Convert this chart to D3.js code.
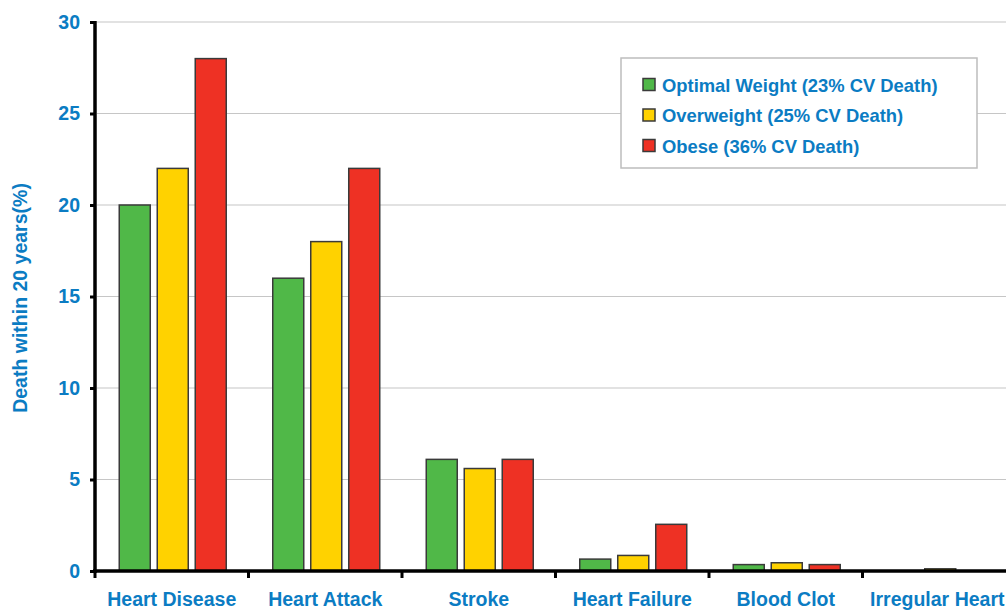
<!DOCTYPE html>
<html>
<head>
<meta charset="utf-8">
<script src="https://cdn.jsdelivr.net/npm/d3@7"></script>
<style>
  html, body { margin: 0; padding: 0; background: #fff; }
  svg { display: block; }
  text { font-family: "Liberation Sans", Arial, sans-serif; font-weight: bold; fill: #0b7cc3; }
</style>
</head>
<body>
<svg id="chart" width="1006" height="613"></svg>
<script>
// Cardiovascular death within 20 years by weight class
const categories = ["Heart Disease", "Heart Attack", "Stroke", "Heart Failure", "Blood Clot", "Irregular Heart"];
const seriesNames = ["Optimal Weight (23% CV Death)", "Overweight (25% CV Death)", "Obese (36% CV Death)"];
const optimalWeight = [20, 16, 6.1, 0.65, 0.35, 0];
const overweight    = [22, 18, 5.6, 0.85, 0.45, 0.12];
const obese         = [28, 22, 6.1, 2.55, 0.35, 0];
const seriesColors  = ["#50b848", "#ffd200", "#ee3124"];
const yTicks = [0, 5, 10, 15, 20, 25, 30];
const yLabel = "Death within 20 years(%)";

const series = [optimalWeight, overweight, obese];

const svg = d3.select("#chart");
const W = 1006, H = 613;
const x0 = 95, xEnd = 1016, yTop = 22, yBase = 571;

const x = d3.scaleBand().domain(categories).range([x0, xEnd]).paddingInner(0).paddingOuter(0);
const groupWidth = 107;
const xs = d3.scaleBand().domain(d3.range(series.length))
  .range([0, groupWidth]).paddingInner(0.184).paddingOuter(0);
const y = d3.scaleLinear().domain([0, 30]).range([yBase, yTop]);

// horizontal gridlines
svg.append("g")
  .selectAll("line")
  .data(yTicks.filter(d => d > 0))
  .join("line")
  .attr("x1", x0 + 2).attr("x2", W)
  .attr("y1", d => y(d)).attr("y2", d => y(d))
  .attr("stroke", "#c6c6c6").attr("stroke-width", 1.2);

// bars
const groups = svg.append("g")
  .selectAll("g")
  .data(categories)
  .join("g")
  .attr("transform", d => `translate(${x(d) + (x.bandwidth() - groupWidth) / 2 + 1},0)`);

groups.selectAll("rect")
  .data((c, i) => series.map((s, k) => ({ k, v: s[i] })))
  .join("rect")
  .attr("x", d => xs(d.k))
  .attr("width", xs.bandwidth())
  .attr("y", d => y(d.v))
  .attr("height", d => yBase - y(d.v))
  .attr("fill", d => seriesColors[d.k])
  .attr("stroke", "#3a3a3a")
  .attr("stroke-width", 1.5);

// y axis
const yAxis = d3.axisLeft(y).tickValues(yTicks).tickSize(5).tickPadding(10).tickFormat(d3.format("d"));
const gy = svg.append("g").attr("transform", `translate(${x0},0)`).call(yAxis);
gy.select(".domain").remove();
gy.selectAll(".tick line").attr("stroke", "#000").attr("stroke-width", 3);
gy.selectAll(".tick text")
  .attr("font-size", 19.5).attr("font-family", "Liberation Sans, Arial, sans-serif")
  .attr("font-weight", "bold").attr("fill", "#0b7cc3");
svg.append("line")
  .attr("x1", x0).attr("x2", x0).attr("y1", y(30) - 1).attr("y2", yBase + 2)
  .attr("stroke", "#000").attr("stroke-width", 3.5);

// x axis
const gx = svg.append("g").attr("transform", `translate(0,${yBase})`);
gx.append("line")
  .attr("x1", x0 - 2).attr("x2", W).attr("y1", 0).attr("y2", 0)
  .attr("stroke", "#000").attr("stroke-width", 3.5);
gx.selectAll("line.tk")
  .data(categories)
  .join("line")
  .attr("class", "tk")
  .attr("x1", d => x(d)).attr("x2", d => x(d))
  .attr("y1", 0).attr("y2", 7)
  .attr("stroke", "#000").attr("stroke-width", 3);
const catLabels = gx.selectAll("text")
  .data(categories)
  .join("text")
  .attr("x", d => x(d) + x.bandwidth() / 2)
  .attr("y", 35)
  .attr("text-anchor", "middle")
  .attr("font-size", 19.5)
  .text(d => d);
// keep the last category label inside the drawing area
catLabels.each(function () {
  const bb = this.getBBox();
  const overflow = bb.x + bb.width - (W - 1);
  if (overflow > 0) d3.select(this).attr("x", +d3.select(this).attr("x") - overflow);
});

// y axis title
svg.append("text")
  .attr("transform", `translate(27,298) rotate(-90)`)
  .attr("text-anchor", "middle")
  .attr("font-size", 19.5)
  .text(yLabel);

// legend
const lg = svg.append("g").attr("transform", "translate(621,58)");
lg.append("rect")
  .attr("width", 356).attr("height", 110)
  .attr("fill", "#fff").attr("stroke", "#bdbdbd").attr("stroke-width", 1.5);
const items = lg.selectAll("g.item")
  .data(seriesNames)
  .join("g")
  .attr("class", "item")
  .attr("transform", (d, i) => `translate(22,${27 + i * 30.5})`);
items.append("rect")
  .attr("x", 0).attr("y", -6.5).attr("width", 12).attr("height", 12)
  .attr("fill", (d, i) => seriesColors[i])
  .attr("stroke", "#3a3a3a").attr("stroke-width", 1.5);
items.append("text")
  .attr("x", 19).attr("y", 6.5)
  .attr("font-size", 18.4)
  .text(d => d);
</script>
</body>
</html>
